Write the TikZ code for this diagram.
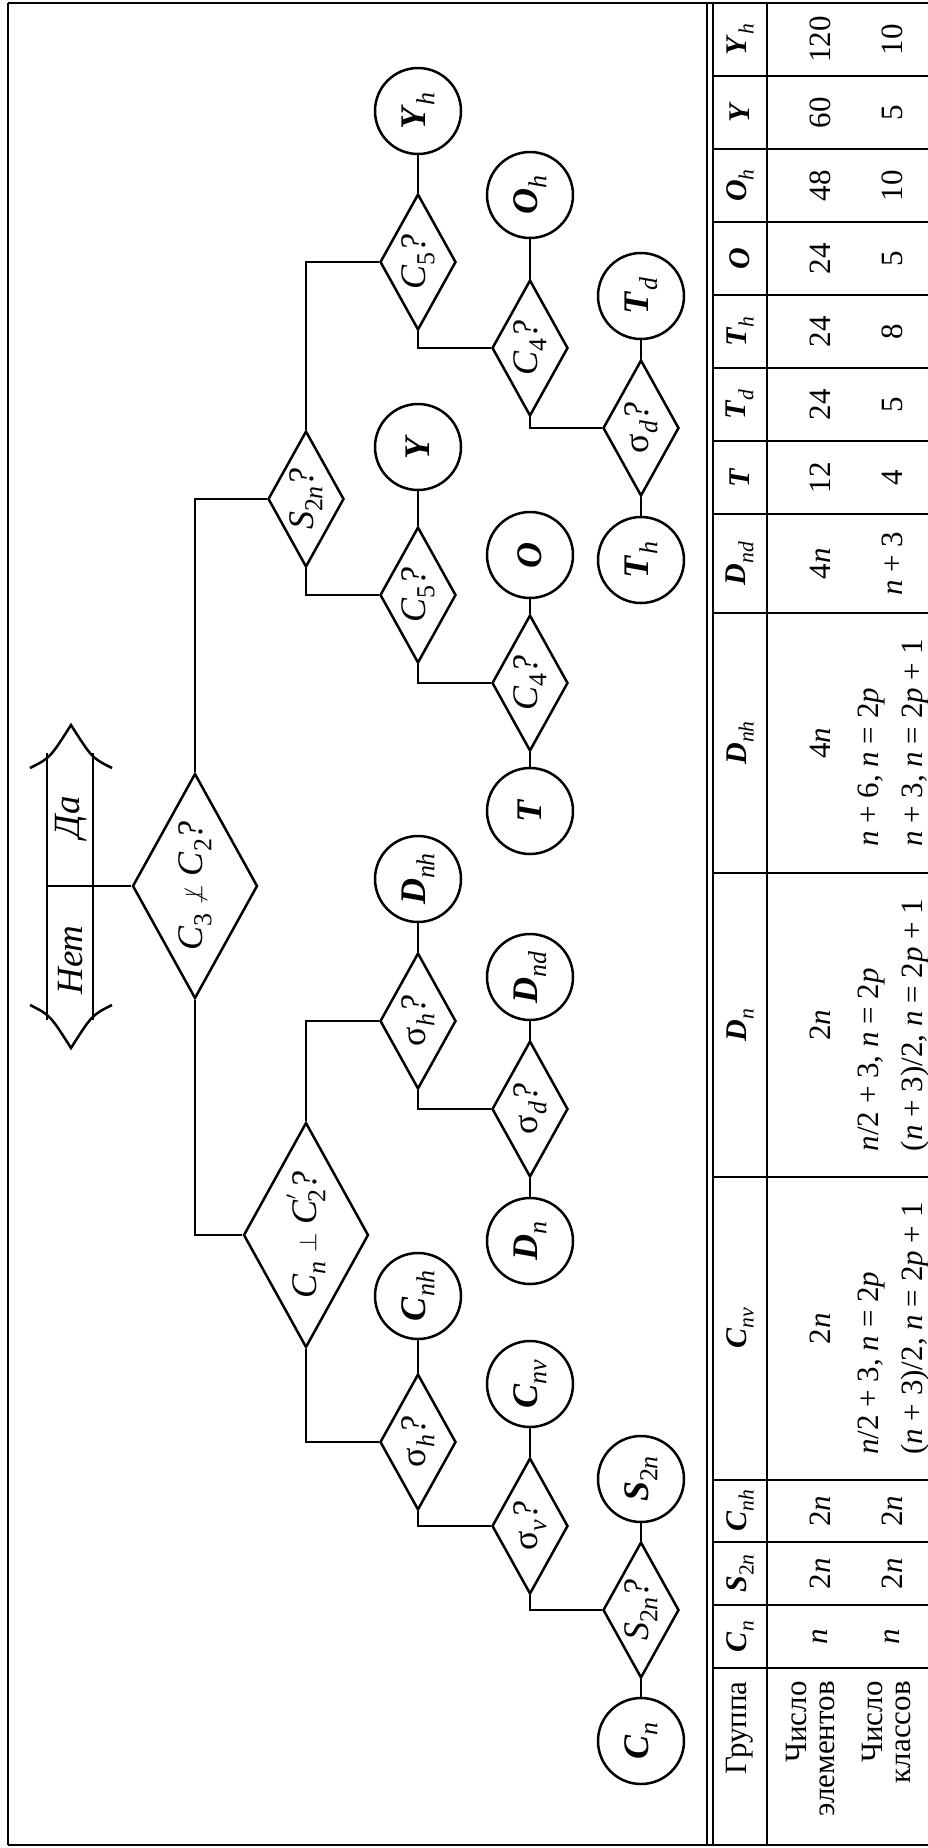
\documentclass[tikz,border=0pt]{standalone}
\usepackage{fontspec}
\setmainfont{Liberation Serif}
\usetikzlibrary{shapes.geometric}
\newcommand\sbx[1]{\raisebox{-0.25em}{\scalebox{0.72}{#1}}}
\newcommand\bi[1]{\textbf{\textit{#1}}}
\newcommand\ii[1]{\textit{#1}}
\newcommand\prm{\raisebox{0.55em}{\scalebox{0.72}{$\prime$}}\kern-0.2em}
\begin{document}
\begin{tikzpicture}[x=1pt,y=-1pt,line width=2.5pt,
  circ/.style={circle,draw,minimum size=86pt,inner sep=0pt,rotate=90,font=\fontsize{36}{40}\selectfont},
  dsm/.style={diamond,draw,minimum width=76pt,minimum height=136pt,inner sep=0pt},
  dbg/.style={diamond,draw,minimum width=125pt,minimum height=225pt,inner sep=0pt},
  lbl/.style={rotate=90,inner sep=0pt,font=\fontsize{36}{40}\selectfont},
  tb/.style={rotate=90,inner sep=0pt,font=\fontsize{31}{38}\selectfont},
  th/.style={rotate=90,inner sep=0pt,font=\fontsize{30}{34}\selectfont},
  frm/.style={line width=2pt}]
\useasboundingbox (0,0) rectangle (928,1848);
% frame and table lines
\draw[frm] (8,3) -- (928,3);
\draw[frm] (8,1845) -- (928,1845);
\draw[frm] (8,3) -- (8,1845);
\draw[frm] (707,3) -- (707,1845);
\draw[frm] (713,3) -- (713,1845);
\draw[frm] (767,3) -- (767,1845);
\foreach \yy in {76,149,222,295,368,441,514,613,873,1177,1480,1542,1605,1668}
  \draw[frm] (713,\yy) -- (928,\yy);
% main diamond and arrow
\node[dbg] (main) at (195,886) {};
\node[lbl] (mainl) at (main) {\ii{C}\sbx{3} $\not\perp$ \ii{C}\sbx{2}\ii{?}};
\draw (47,753) -- (47,1020);
\draw (93,753) -- (93,1020);
\draw (30,768) .. controls (50,758) .. (71,725) .. controls (92,758) .. (112,768);
\draw (30,1005) .. controls (50,1015) .. (71,1048) .. controls (92,1015) .. (112,1005);
\coordinate (ax) at (47,886);
\draw (ax) -- (main.west);
\node[lbl,font=\fontsize{37}{40}\selectfont] (da) at (71,817) {\ii{Да}};
\node[lbl,font=\fontsize{37}{40}\selectfont] (net) at (71,960) {\ii{Нет}};
% upper branch
\node[dsm] (s2nA) at (306,499) {};
\node[lbl] (s2nAl) at (s2nA) {\ii{S}\sbx{2\ii{n}}\ii{?}};
\node[dsm] (c5A) at (418,262) {};
\node[lbl] (c5Al) at (c5A) {\ii{C}\sbx{5}\ii{?}};
\node[circ] (Yh) at (418,111) {\bi{Y}\sbx{\ii{h}}};
\node[dsm] (c4A) at (530,348) {};
\node[lbl] (c4Al) at (c4A) {\ii{C}\sbx{4}\ii{?}};
\node[circ] (Oh) at (530,195) {\bi{O}\sbx{\ii{h}}};
\node[dsm] (sdA) at (641,428) {};
\node[lbl] (sdAl) at (sdA) {σ\sbx{\ii{d}}\ii{?}};
\node[circ] (Td) at (641,296) {\bi{T}\sbx{\ii{d}}};
\node[circ] (Th) at (641,560) {\bi{T}\sbx{\ii{h}}};
\node[dsm] (c5B) at (418,595) {};
\node[lbl] (c5Bl) at (c5B) {\ii{C}\sbx{5}\ii{?}};
\node[circ] (Y) at (418,447) {\bi{Y}};
\node[dsm] (c4B) at (530,683) {};
\node[lbl] (c4Bl) at (c4B) {\ii{C}\sbx{4}\ii{?}};
\node[circ] (O) at (530,555) {\bi{O}};
\node[circ] (T) at (530,811) {\bi{T}};
% lower branch
\node[dbg] (perp) at (306,1235) {};
\node[lbl] (perpl) at (perp) {\ii{C}\sbx{\ii{n}} $\perp$ \ii{C}\prm\sbx{2}\ii{?}};
\node[dsm] (shD) at (418,1021) {};
\node[lbl] (shDl) at (shD) {σ\sbx{\ii{h}}\ii{?}};
\node[circ] (Dnh) at (418,879) {\bi{D}\sbx{\ii{nh}}};
\node[dsm] (sdD) at (530,1109) {};
\node[lbl] (sdDl) at (sdD) {σ\sbx{\ii{d}}\ii{?}};
\node[circ] (Dnd) at (530,977) {\bi{D}\sbx{\ii{nd}}};
\node[circ] (Dn) at (530,1241) {\bi{D}\sbx{\ii{n}}};
\node[dsm] (shC) at (418,1442) {};
\node[lbl] (shCl) at (shC) {σ\sbx{\ii{h}}\ii{?}};
\node[circ] (Cnh) at (418,1296) {\bi{C}\sbx{\ii{nh}}};
\node[dsm] (svC) at (530,1526) {};
\node[lbl] (svCl) at (svC) {σ\sbx{\ii{v}}\ii{?}};
\node[circ] (Cnv) at (530,1384) {\bi{C}\sbx{\ii{nv}}};
\node[dsm] (s2nC) at (641,1610) {};
\node[lbl] (s2nCl) at (s2nC) {\ii{S}\sbx{2\ii{n}}\ii{?}};
\node[circ] (S2n) at (641,1479) {\bi{S}\sbx{2\ii{n}}};
\node[circ] (Cn) at (641,1741) {\bi{C}\sbx{\ii{n}}};
% connectors
\draw (main.north) |- (s2nA.west);
\draw (s2nA.north) |- (c5A.west);
\draw (c5A.north) -- (Yh);
\draw (c5A.south) |- (c4A.west);
\draw (c4A.north) -- (Oh);
\draw (c4A.south) |- (sdA.west);
\draw (sdA.north) -- (Td);
\draw (sdA.south) -- (Th);
\draw (s2nA.south) |- (c5B.west);
\draw (c5B.north) -- (Y);
\draw (c5B.south) |- (c4B.west);
\draw (c4B.north) -- (O);
\draw (c4B.south) -- (T);
\draw (main.south) |- (perp.west);
\draw (perp.north) |- (shD.west);
\draw (shD.north) -- (Dnh);
\draw (shD.south) |- (sdD.west);
\draw (sdD.north) -- (Dnd);
\draw (sdD.south) -- (Dn);
\draw (perp.south) |- (shC.west);
\draw (shC.north) -- (Cnh);
\draw (shC.south) |- (svC.west);
\draw (svC.north) -- (Cnv);
\draw (svC.south) |- (s2nC.west);
\draw (s2nC.north) -- (S2n);
\draw (s2nC.south) -- (Cn);
% table header
\node[th] (h1) at (740,39.5) {\bi{Y}\sbx{\ii{h}}};
\node[th] (h2) at (740,112.5) {\bi{Y}};
\node[th] (h3) at (740,185.5) {\bi{O}\sbx{\ii{h}}};
\node[th] (h4) at (740,258.5) {\bi{O}};
\node[th] (h5) at (740,331.5) {\bi{T}\sbx{\ii{h}}};
\node[th] (h6) at (740,404.5) {\bi{T}\sbx{\ii{d}}};
\node[th] (h7) at (740,477.5) {\bi{T}};
\node[th] (h8) at (740,563.5) {\bi{D}\sbx{\ii{nd}}};
\node[th] (h9) at (740,743) {\bi{D}\sbx{\ii{nh}}};
\node[th] (h10) at (740,1025) {\bi{D}\sbx{\ii{n}}};
\node[th] (h11) at (740,1328.5) {\bi{C}\sbx{\ii{nv}}};
\node[th] (h12) at (740,1511) {\bi{C}\sbx{\ii{nh}}};
\node[th] (h13) at (740,1573.5) {\bi{S}\sbx{2\ii{n}}};
\node[th] (h14) at (740,1636.5) {\bi{C}\sbx{\ii{n}}};
\node[tb,anchor=east] (h15) at (740,1680) {Группа};
% row: number of elements
\node[tb] (e1) at (820,39.5) {120};
\node[tb] (e2) at (820,112.5) {60};
\node[tb] (e3) at (820,185.5) {48};
\node[tb] (e4) at (820,258.5) {24};
\node[tb] (e5) at (820,331.5) {24};
\node[tb] (e6) at (820,404.5) {24};
\node[tb] (e7) at (820,477.5) {12};
\node[tb] (e8) at (820,563.5) {4\ii{n}};
\node[tb] (e9) at (820,743) {4\ii{n}};
\node[tb] (e10) at (820,1025) {2\ii{n}};
\node[tb] (e11) at (820,1328.5) {2\ii{n}};
\node[tb] (e12) at (820,1511) {2\ii{n}};
\node[tb] (e13) at (820,1573.5) {2\ii{n}};
\node[tb] (e14) at (820,1636.5) {\ii{n}};
\node[tb,anchor=east,align=right,font=\fontsize{31}{28}\selectfont] (e15) at (810,1680) {Число\\элементов};
% row: number of classes
\node[tb] (k1) at (892,39.5) {10};
\node[tb] (k2) at (892,112.5) {5};
\node[tb] (k3) at (892,185.5) {10};
\node[tb] (k4) at (892,258.5) {5};
\node[tb] (k5) at (892,331.5) {8};
\node[tb] (k6) at (892,404.5) {5};
\node[tb] (k7) at (892,477.5) {4};
\node[tb] (k8) at (892,563.5) {\ii{n} + 3};
\node[tb,align=left] (k9) at (894,743) {\ii{n} + 6, \ii{n} = 2\ii{p}\\[6pt]\ii{n} + 3, \ii{n} = 2\ii{p} + 1};
\node[tb,align=left] (k10) at (894,1025) {\ii{n}/2 + 3, \ii{n} = 2\ii{p}\\[6pt](\ii{n} + 3)/2, \ii{n} = 2\ii{p} + 1};
\node[tb,align=left] (k11) at (894,1328.5) {\ii{n}/2 + 3, \ii{n} = 2\ii{p}\\[6pt](\ii{n} + 3)/2, \ii{n} = 2\ii{p} + 1};
\node[tb] (k12) at (892,1511) {2\ii{n}};
\node[tb] (k13) at (892,1573.5) {2\ii{n}};
\node[tb] (k14) at (892,1636.5) {\ii{n}};
\node[tb,anchor=east,align=right,font=\fontsize{31}{28}\selectfont] (k15) at (886,1680) {Число\\классов};
\end{tikzpicture}
\end{document}
